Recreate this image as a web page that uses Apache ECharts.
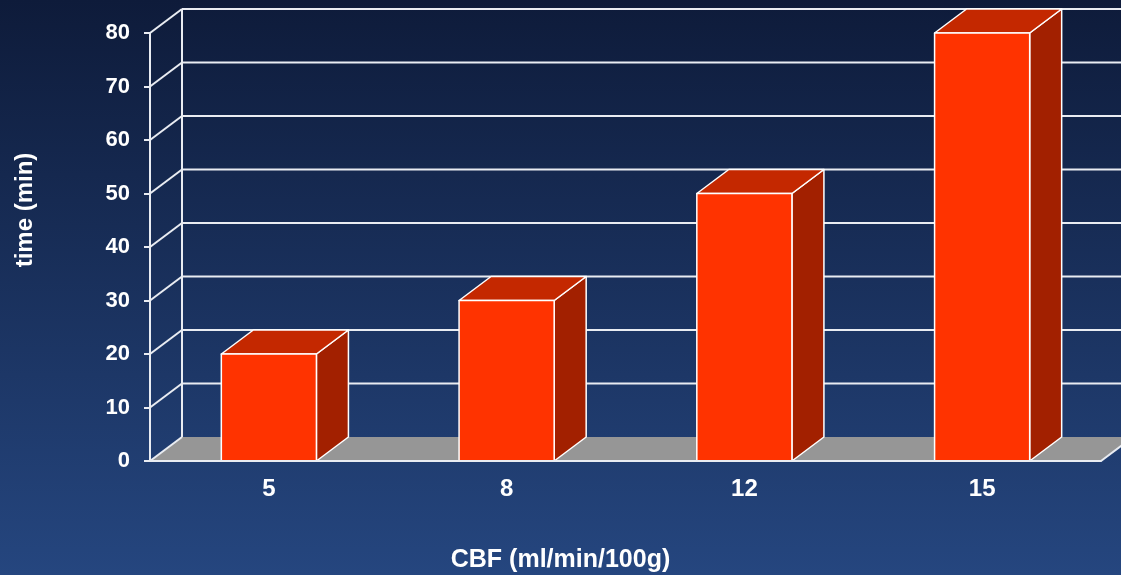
<!DOCTYPE html>
<html>
<head>
<meta charset="utf-8">
<style>
  html, body { margin: 0; padding: 0; background: #1a305e; }
  #chart { width: 1121px; height: 575px; }
</style>
<script src="https://cdn.jsdelivr.net/npm/echarts@6/dist/echarts.min.js"></script>
</head>
<body>
<div id="chart"></div>
<script>
// Time (min) by cerebral blood flow level
const categories = ['5', '8', '12', '15'];
const timeValues = [20, 30, 50, 80];
const yMin = 0;
const yMax = 80;
const yStep = 10;

// Depth offset of the 3D box (back wall relative to front plane)
const DX = 32;
const DY = -24;

const LINE = '#e9ecf2';
const FACE = '#ff3300';
const TOP = '#c42800';
const SIDE = '#a22000';
const FLOOR = '#969696';
const FONT = '"Liberation Sans", Arial, sans-serif';

const chart = echarts.init(document.getElementById('chart'));

// Back wall, floor and the connectors between the front axis and the wall
function renderFrame(params, api) {
  const cs = params.coordSys;
  const left = cs.x, right = cs.x + cs.width, bottom = cs.y + cs.height;
  const children = [];
  children.push({
    type: 'polygon',
    shape: { points: [[left, bottom], [right, bottom], [right + DX, bottom + DY], [left + DX, bottom + DY]] },
    style: { fill: FLOOR }
  });
  const lineStyle = { stroke: LINE, lineWidth: 2 };
  children.push({ type: 'line', shape: { x1: left, y1: bottom, x2: left + DX, y2: bottom + DY }, style: lineStyle });
  children.push({ type: 'line', shape: { x1: right, y1: bottom, x2: right + DX, y2: bottom + DY }, style: lineStyle });
  const yTop = api.coord([0, yMax])[1];
  children.push({ type: 'line', shape: { x1: left + DX, y1: yTop + DY, x2: left + DX, y2: bottom + DY }, style: lineStyle });
  for (let v = yMin + yStep; v <= yMax; v += yStep) {
    const y = api.coord([0, v])[1];
    children.push({ type: 'line', shape: { x1: left, y1: y, x2: left + DX, y2: y + DY }, style: lineStyle });
    children.push({ type: 'line', shape: { x1: left + DX, y1: y + DY, x2: right + DX, y2: y + DY }, style: lineStyle });
  }
  return { type: 'group', children: children };
}

// One 3D column: front face, top and right side
function renderBar(params, api) {
  const idx = api.value(0);
  const base = api.coord([idx, 0]);
  const top = api.coord([idx, api.value(1)]);
  const bw = api.size([1, 0])[0] * 0.4;
  const x0 = base[0] - bw / 2, x1 = base[0] + bw / 2;
  const yb = base[1], yt = top[1];
  const edge = { stroke: '#ffffff', lineWidth: 1.5, lineJoin: 'round' };
  return {
    type: 'group',
    children: [
      { type: 'polygon', shape: { points: [[x1, yt], [x1 + DX, yt + DY], [x1 + DX, yb + DY], [x1, yb]] },
        style: Object.assign({ fill: SIDE }, edge) },
      { type: 'polygon', shape: { points: [[x0, yt], [x1, yt], [x1 + DX, yt + DY], [x0 + DX, yt + DY]] },
        style: Object.assign({ fill: TOP }, edge) },
      { type: 'rect', shape: { x: x0, y: yt, width: bw, height: yb - yt },
        style: Object.assign({ fill: FACE }, edge) }
    ]
  };
}

chart.setOption({
  animation: false,
  backgroundColor: {
    type: 'linear', x: 0, y: 0, x2: 0, y2: 1,
    colorStops: [
      { offset: 0, color: '#0e1b3a' },
      { offset: 1, color: '#25467f' }
    ]
  },
  grid: { left: 150, right: 20, top: 33, bottom: 114, containLabel: false, outerBoundsMode: 'none' },
  xAxis: {
    type: 'category',
    data: categories,
    boundaryGap: true,
    z: 10,
    name: 'CBF (ml/min/100g)',
    nameLocation: 'middle',
    nameGap: 87,
    nameTextStyle: {
      color: '#ffffff', fontWeight: 'bold', fontSize: 25, fontFamily: FONT,
      padding: [0, 130, 0, 0]
    },
    axisLine: { lineStyle: { color: LINE, width: 2 } },
    axisTick: { length: 6, lineStyle: { color: LINE, width: 2 } },
    axisLabel: { color: '#ffffff', fontWeight: 'bold', fontSize: 24, fontFamily: FONT, margin: 16 }
  },
  yAxis: {
    type: 'value',
    min: yMin,
    max: yMax,
    interval: yStep,
    z: 10,
    name: 'time (min)',
    nameLocation: 'middle',
    nameRotate: 90,
    nameGap: 113,
    nameTextStyle: {
      color: '#ffffff', fontWeight: 'bold', fontSize: 24, fontFamily: FONT,
      padding: [0, 0, 0, 74]
    },
    axisLine: { show: true, lineStyle: { color: LINE, width: 2 } },
    axisTick: { show: true, length: 6, lineStyle: { color: LINE, width: 2 } },
    splitLine: { show: false },
    axisLabel: { color: '#ffffff', fontWeight: 'bold', fontSize: 22, fontFamily: FONT, margin: 20 }
  },
  series: [
    {
      type: 'custom',
      name: 'frame',
      z: 1,
      clip: false,
      silent: true,
      renderItem: renderFrame,
      data: [[0, 0]]
    },
    {
      type: 'custom',
      name: 'time',
      z: 3,
      clip: false,
      renderItem: renderBar,
      encode: { x: 0, y: 1 },
      data: categories.map((c, i) => [i, timeValues[i]])
    }
  ]
});
</script>
</body>
</html>
